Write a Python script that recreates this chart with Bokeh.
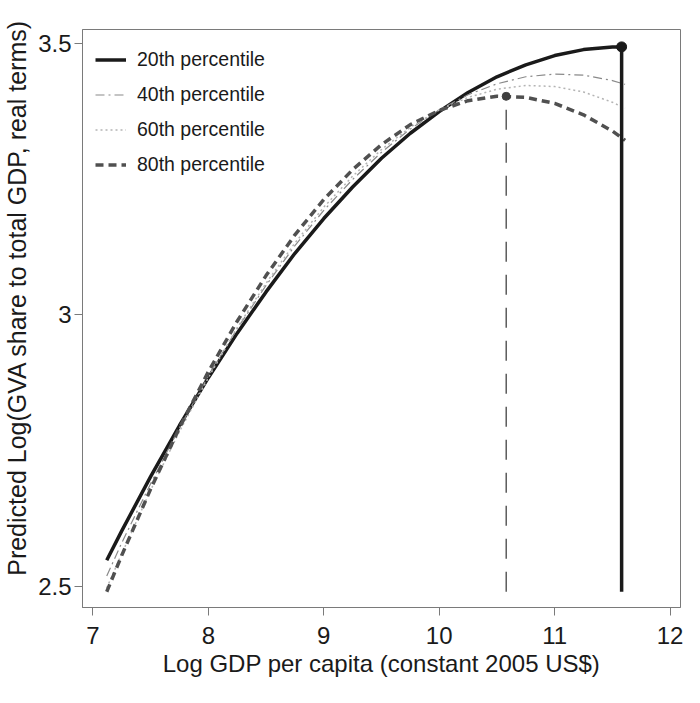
from bokeh.plotting import figure
from bokeh.models import Range1d, FixedTicker, NumeralTickFormatter, Legend, LegendItem
from bokeh.embed import file_html
from bokeh.resources import INLINE

# ---- data ----
gdp = [7.12, 7.25, 7.5, 7.75, 8.0, 8.25, 8.5, 8.75, 9.0, 9.25,
       9.5, 9.75, 10.0, 10.25, 10.5, 10.75, 11.0, 11.25, 11.5, 11.61]
p20 = [2.548, 2.602, 2.702, 2.796, 2.884, 2.966, 3.042, 3.113, 3.177, 3.235,
       3.288, 3.334, 3.374, 3.409, 3.438, 3.460, 3.477, 3.488, 3.493, 3.493]
p40 = [2.519, 2.580, 2.689, 2.792, 2.887, 2.974, 3.054, 3.127, 3.192, 3.249,
       3.299, 3.342, 3.377, 3.405, 3.425, 3.438, 3.443, 3.441, 3.431, 3.424]
p60 = [2.497, 2.560, 2.677, 2.785, 2.884, 2.976, 3.058, 3.132, 3.198, 3.255,
       3.304, 3.345, 3.377, 3.400, 3.415, 3.422, 3.420, 3.410, 3.391, 3.380]
p80 = [2.490, 2.557, 2.679, 2.792, 2.895, 2.988, 3.072, 3.147, 3.212, 3.267,
       3.313, 3.350, 3.376, 3.394, 3.402, 3.400, 3.389, 3.368, 3.338, 3.321]
peak_x = [11.58, 10.58]      # turning points: 20th, 80th percentile
peak_y = [3.493, 3.402]
floor_y = [2.49, 2.49]
series_names = ["20th percentile", "40th percentile", "60th percentile", "80th percentile"]
x_ticks = [7, 8, 9, 10, 11, 12]
y_ticks = [2.5, 3, 3.5]
x_title = "Log GDP per capita (constant 2005 US$)"
y_title = "Predicted Log(GVA share to total GDP, real terms)"

FONT = "Liberation Sans"
TXT = "#1a1a1a"
FRAME = "#7a7a7a"

p = figure(width=684, height=687,
           x_range=Range1d(6.91, 12.09), y_range=Range1d(2.461, 3.525),
           output_backend="svg", toolbar_location=None,
           min_border_left=82, min_border_right=4,
           min_border_top=29, min_border_bottom=80)
p.background_fill_color = "white"
p.border_fill_color = "white"
p.outline_line_color = FRAME
p.outline_line_width = 1
p.grid.visible = False

for ax in (p.xaxis[0], p.yaxis[0]):
    ax.axis_line_color = FRAME
    ax.major_tick_line_color = FRAME
    ax.major_tick_in = 0
    ax.major_tick_out = 8
    ax.minor_tick_in = 0
    ax.minor_tick_out = 0
    ax.major_label_text_font = FONT
    ax.major_label_text_font_size = "24px"
    ax.major_label_text_color = TXT
    ax.axis_label_text_font = FONT
    ax.axis_label_text_font_size = "24px"
    ax.axis_label_text_font_style = "normal"
    ax.axis_label_text_color = TXT

p.yaxis.axis_label_text_font_size = "25px"
p.xaxis.ticker = FixedTicker(ticks=x_ticks)
p.yaxis.ticker = FixedTicker(ticks=y_ticks)
p.yaxis.formatter = NumeralTickFormatter(format="0.[0]")
p.yaxis.major_label_orientation = "horizontal"
p.xaxis.major_label_standoff = 11
p.yaxis.major_label_standoff = 3
p.xaxis.axis_label_standoff = 3
p.yaxis.axis_label_standoff = 4
p.xaxis.axis_label = x_title
# leading no-break spaces lift the rotated title, as in the reference
p.yaxis.axis_label = "\u00a0" * 6 + y_title

r20 = p.line(gdp, p20, line_color="#1a1a1a", line_width=3.5)
r40 = p.line(gdp, p40, line_color="#8a8a8a", line_width=1.2, line_dash="9 4 2 4")
r60 = p.line(gdp, p60, line_color="#b4b4b4", line_width=1.5, line_dash="2 3")
r80 = p.line(gdp, p80, line_color="#505050", line_width=3.5, line_dash="8 5")

# drop lines at turning points
p.segment(x0=[peak_x[0]], y0=[floor_y[0]], x1=[peak_x[0]], y1=[peak_y[0]],
          line_color="#1a1a1a", line_width=3.5)
p.segment(x0=[peak_x[1]], y0=[floor_y[1]], x1=[peak_x[1]], y1=[peak_y[1]],
          line_color="#333333", line_width=1.2, line_dash="20 13")
p.scatter([peak_x[0]], [peak_y[0]], size=10, color="#1a1a1a")
p.scatter([peak_x[1]], [peak_y[1]], size=8, color="#404040")

legend = Legend(items=[LegendItem(label=series_names[0], renderers=[r20]),
                       LegendItem(label=series_names[1], renderers=[r40]),
                       LegendItem(label=series_names[2], renderers=[r60]),
                       LegendItem(label=series_names[3], renderers=[r80])],
                location="top_left", margin=0, padding=13, spacing=0,
                glyph_width=31, glyph_height=35, label_height=35,
                label_standoff=11, label_text_font=FONT,
                label_text_font_size="19.5px", label_text_color=TXT,
                border_line_color="white", border_line_alpha=0,
                background_fill_alpha=0)
p.add_layout(legend)

open("out.html", "w").write(file_html(p, INLINE))
